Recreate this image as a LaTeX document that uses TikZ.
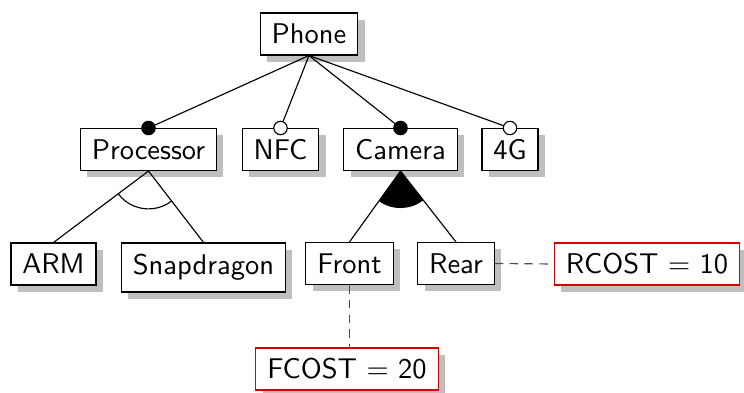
\documentclass[tikz,border=0pt]{standalone}
\usetikzlibrary{shadows,calc}
\begin{document}
\begin{tikzpicture}[x=0.351pt,y=-0.351pt,
  font=\sffamily,
  feature/.style={draw, fill=white, line width=0.4pt, inner xsep=4pt, inner ysep=0pt,
    minimum height=14.7pt,
    drop shadow={shadow xshift=2.4pt, shadow yshift=-2.4pt, fill=gray!50, opacity=1}},
  attr/.style={feature, draw=red!85!black},
  mandatory/.style={circle, draw, fill=black, inner sep=0pt, minimum size=4.7pt},
  optional/.style={circle, draw, fill=white, inner sep=0pt, minimum size=4.7pt},
  link/.style={line width=0.4pt},
  constraint/.style={draw=black!70, line width=0.4pt, dash pattern=on 3pt off 2.2pt}]
\useasboundingbox (0,0) rectangle (744,392);

% features
\node[feature] (phone) at (309,34) {Phone};
\node[feature] (proc)  at (148.5,149.5) {Processor};
\node[feature] (nfc)   at (280.5,149.5) {NFC};
\node[feature] (cam)   at (400.5,149.5) {Camera};
\node[feature] (fourg) at (510,149.5) {4G};
\node[feature] (arm)   at (53.5,264) {ARM};
\node[feature, minimum height=17.2pt] (snap) at (203.5,267.5) {Snapdragon};
\node[feature] (front) at (349.5,263.5) {Front};
\node[feature] (rear)  at (456,263.5) {Rear};

% attributes
\node[attr] (rcost) at (647,264) {RCOST $=$ 10};
\node[attr] (fcost) at (347,369) {FCOST $=$ 20};

% mandatory / optional markers
\node[mandatory] (mproc) at (proc.north) {};
\node[optional]  (onfc)  at (nfc.north) {};
\node[mandatory] (mcam)  at (cam.north) {};
\node[optional]  (ofourg) at (fourg.north) {};

\draw[link] (phone.south) -- (mproc);
\draw[link] (phone.south) -- (onfc);
\draw[link] (phone.south) -- (mcam);
\draw[link] (phone.south) -- (ofourg);

% alternative group under Processor
\draw[link] (proc.south) -- (arm.north);
\draw[link] (proc.south) -- (snap.north);
\draw[link] let \p1=($(arm.north)-(proc.south)$), \p2=($(snap.north)-(proc.south)$),
  \n1={atan2(\y1,\x1)}, \n2={atan2(\y2,\x2)} in
  ($(proc.south)+(\n1:13.3pt)$) arc[start angle=\n1, end angle=\n2, radius=13.3pt];

% or group under Camera
\fill let \p1=($(front.north)-(cam.south)$), \p2=($(rear.north)-(cam.south)$),
  \n1={atan2(\y1,\x1)}, \n2={atan2(\y2,\x2)} in
  (cam.south) -- ($(cam.south)+(\n1:13pt)$) arc[start angle=\n1, end angle=\n2, radius=13pt] -- cycle;
\draw[link] (cam.south) -- (front.north);
\draw[link] (cam.south) -- (rear.north);

% attribute links
\draw[constraint] (rear.east) -- (rcost.west);
\draw[constraint] (front.south) -- (front.south |- fcost.north);
\end{tikzpicture}
\end{document}
